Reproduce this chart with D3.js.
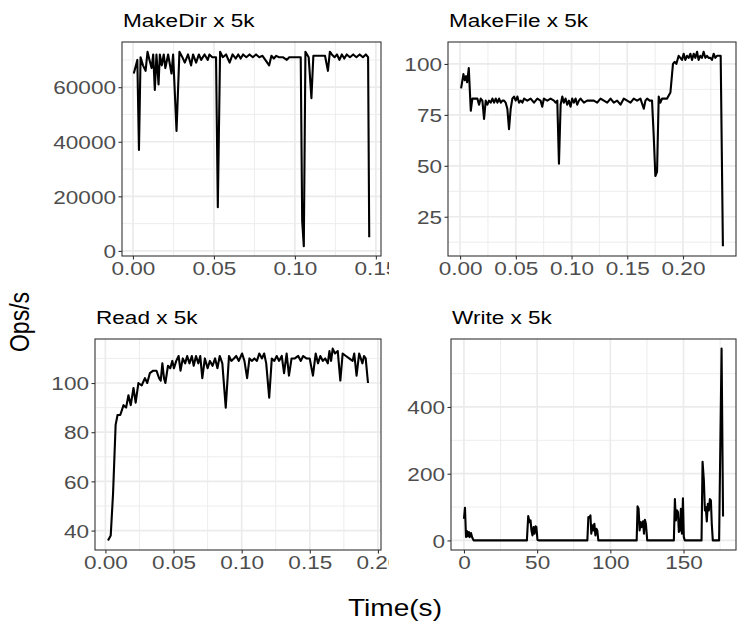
<!DOCTYPE html>
<html>
<head>
<meta charset="utf-8">
<title>Ops/s over time</title>
<script src="https://cdn.jsdelivr.net/npm/d3@7"></script>
<style>
  body { margin: 0; background: #fff; }
  svg { display: block; font-family: "Liberation Sans", Arial, Helvetica, sans-serif; }
  .grid-major { stroke: #ebebeb; stroke-width: 1.7; }
  .grid-minor { stroke: #ebebeb; stroke-width: 0.9; }
  .border { fill: none; stroke: #333; stroke-width: 1.1; }
  .series { fill: none; stroke: #000; stroke-width: 2.1; stroke-linejoin: round; }
  .axis path { display: none; }
  .axis line { stroke: #333; stroke-width: 1.1; }
  .axis text { fill: #4d4d4d; font-size: 18.5px; }
  .title { font-size: 18.5px; fill: #000; }
  .axis-title { font-size: 23px; fill: #000; }
</style>
</head>
<body>
<svg width="747" height="632"></svg>
<script>
// --- data ---
var makeDirTime = [0.0005, 0.0027, 0.0037, 0.0047, 0.0062, 0.0078, 0.0090, 0.0102, 0.0115, 0.0125,
  0.0135, 0.0145, 0.0158, 0.0166, 0.0178, 0.0190, 0.0200, 0.0217, 0.0238, 0.0248,
  0.0269, 0.0287, 0.0305, 0.0320, 0.0340, 0.0359, 0.0371, 0.0390, 0.0407, 0.0421,
  0.0442, 0.0462, 0.0472, 0.0490, 0.0513, 0.0524, 0.0538, 0.0555, 0.0575, 0.0597,
  0.0615, 0.0635, 0.0650, 0.0665, 0.0680, 0.0700, 0.0720, 0.0740, 0.0760, 0.0780,
  0.0800, 0.0841, 0.0855, 0.0870, 0.0885, 0.0900, 0.0925, 0.0950, 0.0965, 0.1000,
  0.1036, 0.1045, 0.1055, 0.1065, 0.1085, 0.1102, 0.1114, 0.1150, 0.1186, 0.1204,
  0.1216, 0.1228, 0.1245, 0.1260, 0.1275, 0.1290, 0.1305, 0.1320, 0.1340, 0.1360,
  0.1380, 0.1400, 0.1420, 0.1438, 0.1452, 0.1459];
var makeDirOps = [65000, 70000, 37000, 71000, 68000, 66000, 73000, 70000, 67000, 72000,
  59000, 72000, 61000, 72000, 68000, 72000, 67000, 72000, 65000, 72000,
  44000, 73000, 71000, 69000, 72000, 68000, 72000, 69000, 72000, 70000,
  72000, 70000, 72000, 71000, 71000, 16000, 73000, 71000, 72000, 69000,
  72000, 70500, 72000, 70500, 72000, 71000, 72000, 71000, 72000, 71000,
  71500, 68000, 71500, 70500, 71500, 71000, 71000, 70000, 71000, 71000,
  71000, 11000, 1700, 73000, 71000, 56000, 71500, 71500, 71500, 66000,
  73000, 72000, 71000, 72000, 70000, 72000, 70500, 72000, 71000, 72000,
  71000, 72000, 71000, 72000, 71000, 5000];

var makeFileTime = [0.0009, 0.0030, 0.0042, 0.0054, 0.0063, 0.0078, 0.0096, 0.0110, 0.0155, 0.0170,
  0.0185, 0.0200, 0.0215, 0.0230, 0.0245, 0.0260, 0.0275, 0.0290, 0.0305, 0.0320,
  0.0335, 0.0350, 0.0365, 0.0380, 0.0394, 0.0409, 0.0424, 0.0439, 0.0454, 0.0469,
  0.0484, 0.0499, 0.0514, 0.0529, 0.0544, 0.0559, 0.0574, 0.0603, 0.0633, 0.0663,
  0.0693, 0.0722, 0.0737, 0.0752, 0.0782, 0.0812, 0.0842, 0.0857, 0.0872, 0.0887,
  0.0902, 0.0917, 0.0931, 0.0946, 0.0961, 0.0976, 0.0991, 0.1006, 0.1021, 0.1036,
  0.1051, 0.1066, 0.1081, 0.1111, 0.1140, 0.1200, 0.1230, 0.1260, 0.1290, 0.1320,
  0.1350, 0.1379, 0.1409, 0.1439, 0.1469, 0.1499, 0.1529, 0.1558, 0.1588, 0.1618,
  0.1648, 0.1663, 0.1678, 0.1701, 0.1722, 0.1737, 0.1752, 0.1767, 0.1782, 0.1797,
  0.1812, 0.1827, 0.1857, 0.1887, 0.1910, 0.1925, 0.1940, 0.1961, 0.1976, 0.1991,
  0.2006, 0.2021, 0.2036, 0.2051, 0.2066, 0.2081, 0.2096, 0.2111, 0.2126, 0.2140,
  0.2155, 0.2170, 0.2185, 0.2200, 0.2215, 0.2230, 0.2245, 0.2260, 0.2275, 0.2290,
  0.2305, 0.2338, 0.2358];
var makeFileOps = [88, 95, 92, 94, 91, 98, 77, 83, 83, 80,
  83, 82, 73, 82, 80, 82, 81, 83, 81, 83,
  81, 83, 81, 82, 82, 81, 78, 68, 78, 83,
  84, 82, 84, 81, 82, 81, 83, 82, 83, 81,
  83, 82, 79, 83, 82, 83, 82, 81, 82, 51,
  80, 84, 81, 83, 80, 82, 79, 83, 81, 83,
  80, 82, 83, 81, 82, 82, 81, 83, 82, 81,
  83, 81, 82, 80, 83, 82, 81, 83, 82, 83,
  78, 82, 83, 82, 82, 65, 45, 47, 84, 81,
  83, 83, 83, 86, 100, 101, 100, 104, 103, 102,
  105, 102, 104, 103, 105, 102, 105, 103, 106, 102,
  104, 103, 106, 103, 104, 103, 103, 102, 105, 103,
  104, 104, 10.5];

var readTime = [0.0019, 0.0039, 0.0056, 0.0075, 0.0089, 0.0109, 0.0121, 0.0133, 0.0152, 0.0169,
  0.0186, 0.0206, 0.0222, 0.0242, 0.0266, 0.0290, 0.0307, 0.0326, 0.0351, 0.0375,
  0.0394, 0.0406, 0.0418, 0.0430, 0.0440, 0.0459, 0.0476, 0.0491, 0.0503, 0.0520,
  0.0537, 0.0551, 0.0568, 0.0585, 0.0600, 0.0617, 0.0634, 0.0648, 0.0665, 0.0682,
  0.0696, 0.0711, 0.0730, 0.0750, 0.0767, 0.0786, 0.0805, 0.0822, 0.0839, 0.0858,
  0.0883, 0.0907, 0.0924, 0.0943, 0.0960, 0.0979, 0.1003, 0.1020, 0.1040, 0.1057,
  0.1076, 0.1093, 0.1112, 0.1129, 0.1149, 0.1165, 0.1180, 0.1202, 0.1221, 0.1240,
  0.1257, 0.1274, 0.1294, 0.1311, 0.1330, 0.1347, 0.1366, 0.1390, 0.1415, 0.1434,
  0.1451, 0.1475, 0.1499, 0.1523, 0.1543, 0.1560, 0.1577, 0.1596, 0.1613, 0.1632,
  0.1644, 0.1656, 0.1668, 0.1685, 0.1705, 0.1724, 0.1741, 0.1765, 0.1789, 0.1814,
  0.1826, 0.1843, 0.1862, 0.1874, 0.1886, 0.1898, 0.1910, 0.1927];
var readOps = [36, 38, 55, 83, 87, 87, 89, 91, 90, 95,
  91, 98, 92, 100, 99, 102, 100, 104, 105, 105,
  102, 101, 108, 102, 100, 107, 106, 109, 106, 109,
  111, 105, 110, 108, 111, 108, 111, 107, 111, 108,
  111, 102, 110, 106, 109, 107, 110, 106, 111, 108,
  90, 111, 109, 110, 111, 109, 112, 109, 102, 110,
  109, 110, 109, 112, 110, 112, 108, 94, 110, 109,
  111, 109, 111, 104, 112, 103, 110, 110, 111, 109,
  111, 110, 110, 103, 112, 108, 111, 109, 110, 108,
  113, 109, 114, 112, 113, 101, 112, 111, 110, 109,
  112, 103, 112, 110, 108, 111, 110, 100];

var writeTime = [0, 0.7, 1.4, 2.0, 2.7, 3.4, 4.0, 4.8, 5.7, 6.6,
  43.0, 43.9, 44.8, 45.5, 46.1, 46.8, 47.5, 48.2, 48.9, 49.5, 50.2, 51.0,
  84.3, 85.0, 85.7, 86.4, 87.0, 87.7, 88.4, 89.1, 89.8, 90.5, 91.1, 91.8,
  118.0, 118.6, 119.3, 120.0, 120.7, 121.4, 122.3, 123.0, 123.6, 124.3, 125.2,
  143.4, 144.1, 144.8, 145.5, 146.2, 146.8, 147.5, 148.2, 148.9, 149.6, 150.2, 150.9,
  162.3, 163.0, 163.9, 164.6, 165.2, 165.9, 166.6, 167.3, 168.0, 168.7, 169.3, 170.0,
  174.3, 176.0, 177.0];
var writeOps = [65, 98, 10, 28, 12, 25, 10, 22, 8, 0,
  0, 73, 55, 60, 30, 15, 40, 20, 42, 40, 2, 0,
  0, 70, 68, 75, 20, 45, 30, 50, 15, 35, 30, 0,
  0, 102, 95, 30, 55, 40, 57, 20, 62, 50, 0,
  0, 124, 60, 90, 85, 25, 30, 95, 20, 126, 10, 0,
  0, 236, 180, 90, 100, 57, 110, 90, 124, 120, 50, 0,
  0, 575, 72];

// tick labels
var makeDirXLabels = ["0.00", "0.05", "0.10", "0.15"];
var makeDirYLabels = ["0", "20000", "40000", "60000"];
var makeFileXLabels = ["0.00", "0.05", "0.10", "0.15", "0.20"];
var makeFileYLabels = ["25", "50", "75", "100"];
var readXLabels = ["0.00", "0.05", "0.10", "0.15", "0.20"];
var readYLabels = ["40", "60", "80", "100"];
var writeXLabels = ["0", "50", "100", "150"];
var writeYLabels = ["0", "200", "400"];

// --- layout ---
var SX = 1.22;   // glyphs in the reference are stretched sideways
var TICK = 3.5, PAD = 2.5;

var svg = d3.select("svg");

// left column plots get cut off at their right edge, like the reference
svg.append("defs").append("clipPath").attr("id", "leftcol")
  .append("rect").attr("x", 0).attr("y", 0).attr("width", 389).attr("height", 632);

var panels = [
  { title: "MakeDir x 5k", t: makeDirTime, v: makeDirOps, xl: makeDirXLabels, yl: makeDirYLabels,
    box: [122, 42, 381, 256], clip: true },
  { title: "MakeFile x 5k", t: makeFileTime, v: makeFileOps, xl: makeFileXLabels, yl: makeFileYLabels,
    box: [448, 42, 736, 256], clip: false },
  { title: "Read x 5k", t: readTime, v: readOps, xl: readXLabels, yl: readYLabels,
    box: [95, 339, 381, 550], clip: true },
  { title: "Write x 5k", t: writeTime, v: writeOps, xl: writeXLabels, yl: writeYLabels,
    box: [451, 339, 736, 550], clip: false }
];

// ggplot style 5% expansion
function expand(ext) {
  var d = (ext[1] - ext[0]) * 0.05;
  return [ext[0] - d, ext[1] + d];
}

// minor breaks halfway between majors (and one step outside, if still in range)
function minors(major, domain) {
  var step = major[1] - major[0];
  var out = [];
  for (var m = major[0] - step / 2; m <= major[major.length - 1] + step / 2 + 1e-9; m += step) {
    if (m >= domain[0] && m <= domain[1]) out.push(m);
  }
  return out;
}

panels.forEach(function(p) {
  var x0 = p.box[0], y0 = p.box[1], x1 = p.box[2], y1 = p.box[3];
  var w = x1 - x0, h = y1 - y0;

  var xs = d3.scaleLinear().domain(expand(d3.extent(p.t))).range([0, w]);
  var ys = d3.scaleLinear().domain(expand(d3.extent(p.v))).range([h, 0]);

  var xMajor = p.xl.map(Number), yMajor = p.yl.map(Number);

  var outer = svg.append("g");
  if (p.clip) outer.attr("clip-path", "url(#leftcol)");
  var g = outer.append("g").attr("transform", "translate(" + x0 + "," + y0 + ")");

  // grid
  g.selectAll(".gxm").data(minors(xMajor, xs.domain())).enter().append("line")
    .attr("class", "grid-minor").attr("x1", xs).attr("x2", xs).attr("y1", 0).attr("y2", h);
  g.selectAll(".gym").data(minors(yMajor, ys.domain())).enter().append("line")
    .attr("class", "grid-minor").attr("y1", ys).attr("y2", ys).attr("x1", 0).attr("x2", w);
  g.selectAll(".gxM").data(xMajor).enter().append("line")
    .attr("class", "grid-major").attr("x1", xs).attr("x2", xs).attr("y1", 0).attr("y2", h);
  g.selectAll(".gyM").data(yMajor).enter().append("line")
    .attr("class", "grid-major").attr("y1", ys).attr("y2", ys).attr("x1", 0).attr("x2", w);

  // series
  var line = d3.line()
    .x(function(d, i) { return xs(p.t[i]); })
    .y(function(d) { return ys(d); });
  g.append("path").attr("class", "series").attr("d", line(p.v));

  g.append("rect").attr("class", "border").attr("width", w).attr("height", h);

  // axes
  var ax = g.append("g").attr("class", "axis").attr("transform", "translate(0," + h + ")")
    .call(d3.axisBottom(xs).tickValues(xMajor).tickFormat(function(d, i) { return p.xl[i]; })
      .tickSize(TICK).tickPadding(PAD));
  ax.attr("font-family", null).attr("font-size", null);
  ax.selectAll(".tick text").attr("transform", "scale(" + SX + ",1)");

  var ay = g.append("g").attr("class", "axis")
    .call(d3.axisLeft(ys).tickValues(yMajor).tickFormat(function(d, i) { return p.yl[i]; })
      .tickSize(TICK).tickPadding(PAD));
  ay.attr("font-family", null).attr("font-size", null);
  ay.selectAll(".tick text").attr("x", -(TICK + PAD) / SX).attr("dy", "0.36em")
    .attr("transform", "scale(" + SX + ",1)");

  // title
  outer.append("text").attr("class", "title")
    .attr("transform", "translate(" + (x0 + 1) + "," + (y0 - 15) + ") scale(" + SX + ",1)")
    .text(p.title);
});

svg.append("text").attr("class", "axis-title").attr("text-anchor", "middle")
  .attr("transform", "translate(395,616) scale(" + SX + ",1)")
  .text("Time(s)");
svg.append("text").attr("class", "axis-title").attr("text-anchor", "middle")
  .attr("transform", "translate(29,322) rotate(-90) scale(1," + SX + ")")
  .text("Ops/s");
</script>
</body>
</html>
